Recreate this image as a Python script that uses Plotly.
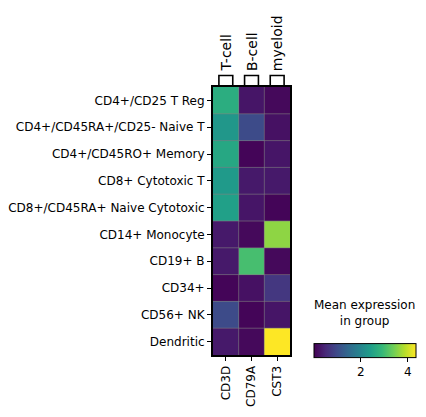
import plotly.graph_objects as go

genes = ["CD3D", "CD79A", "CST3"]
gene_groups = ["T-cell", "B-cell", "myeloid"]
cell_types = [
    "CD4+/CD25 T Reg",
    "CD4+/CD45RA+/CD25- Naive T",
    "CD4+/CD45RO+ Memory",
    "CD8+ Cytotoxic T",
    "CD8+/CD45RA+ Naive Cytotoxic",
    "CD14+ Monocyte",
    "CD19+ B",
    "CD34+",
    "CD56+ NK",
    "Dendritic",
]
cd3d = [2.7, 2.3, 2.6, 2.35, 2.45, 0.3, 0.3, 0.05, 1.0, 0.3]
cd79a = [0.25, 1.0, 0.05, 0.3, 0.25, 0.1, 3.05, 0.2, 0.05, 0.1]
cst3 = [0.1, 0.2, 0.25, 0.3, 0.05, 3.6, 0.1, 0.7, 0.25, 4.35]

z = [list(r) for r in zip(cd3d, cd79a, cst3)]
font = "DejaVu Sans"

fig = go.Figure(go.Heatmap(
    z=z, x=genes, y=cell_types,
    colorscale="Viridis", zmin=0.0, zmax=4.35,
    colorbar=dict(
        orientation="h", lenmode="pixels", len=102, thickness=14,
        x=1.312, xanchor="left", y=-0.093, yanchor="bottom", xpad=0, ypad=0,
        tickvals=[2, 4], ticks="outside", ticklen=4, tickcolor="black",
        outlinewidth=1, outlinecolor="black",
        tickfont=dict(family=font, size=12, color="black"),
    ),
))

# thin grid lines between cells
shapes = []
for i in range(1, len(genes)):
    shapes.append(dict(type="line", xref="x", yref="paper", x0=i - 0.5, x1=i - 0.5,
                       y0=0, y1=1, line=dict(color="gray", width=1), opacity=0.6))
for j in range(1, len(cell_types)):
    shapes.append(dict(type="line", xref="paper", yref="y", x0=0, x1=1,
                       y0=j - 0.5, y1=j - 0.5, line=dict(color="gray", width=1), opacity=0.6))

# group brackets and labels above the columns
annotations = []
for i, g in enumerate(gene_groups):
    shapes.append(dict(type="path", xref="x", yref="paper",
                       path=f"M {i - 0.27} 1 L {i - 0.27} 1.043 L {i + 0.27} 1.043 L {i + 0.27} 1",
                       line=dict(color="black", width=1.6)))
    annotations.append(dict(x=i, xref="x", y=1.052, yref="paper", text=g, textangle=-90,
                            showarrow=False, xanchor="center", yanchor="bottom",
                            font=dict(family=font, size=14, color="black")))

annotations.append(dict(x=1.974, xref="paper", y=0.093, yref="paper",
                        text="Mean expression<br>in group", showarrow=False,
                        xanchor="center", yanchor="bottom",
                        font=dict(family=font, size=12, color="black")))

fig.update_layout(
    width=426, height=417,
    margin=dict(l=205, r=144, t=79, b=70, autoexpand=False),
    paper_bgcolor="white", plot_bgcolor="white",
    shapes=shapes, annotations=annotations,
    xaxis=dict(showline=True, linewidth=2, linecolor="black", mirror=True,
               ticks="outside", ticklen=4, tickcolor="black", tickangle=-90,
               tickfont=dict(family=font, size=12, color="black")),
    yaxis=dict(showline=True, linewidth=2, linecolor="black", mirror=True,
               autorange="reversed", ticks="outside", ticklen=4, tickcolor="black",
               tickfont=dict(family=font, size=12, color="black")),
)

fig.write_html("out.html")
